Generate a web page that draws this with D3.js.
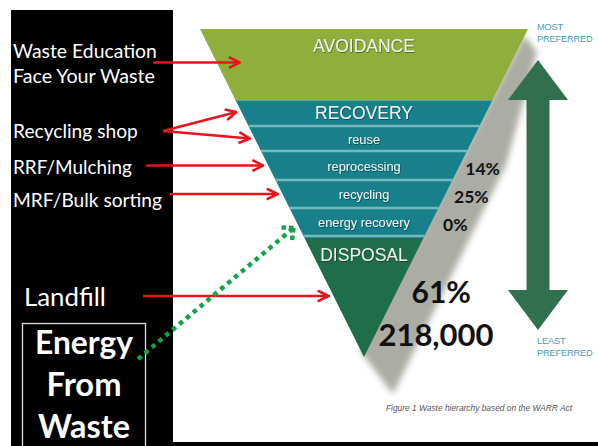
<!DOCTYPE html>
<html lang="en">
<head>
<meta charset="UTF-8">
<title>Waste hierarchy</title>
<script src="https://cdn.jsdelivr.net/npm/d3@7"></script>
<style>
  html, body { margin: 0; padding: 0; background: #fff; }
  svg { display: block; }
</style>
</head>
<body>
<script>

// ---- data ----
var layers     = ["AVOIDANCE", "RECOVERY", "reuse", "reprocessing", "recycling", "energy recovery", "DISPOSAL"];
var layerDepth = [71, 28, 25, 29, 28, 28, 119];   // relative depth of each band in the funnel
var shareLayer = ["reprocessing", "recycling", "energy recovery", "DISPOSAL"];
var shareText  = ["14%", "25%", "0%", "61%"];
var tonnes     = "218,000";
var actions    = [["Waste Education", "Face Your Waste"], ["Recycling shop"], ["RRF/Mulching"], ["MRF/Bulk sorting"], ["Landfill"]];
var actionTo   = [["AVOIDANCE"], ["RECOVERY", "reuse"], ["reprocessing"], ["recycling"], ["DISPOSAL"]];
var efwText    = ["Energy", "From", "Waste"];

var width = 598, height = 446;

var svg = d3.select("body").append("svg")
    .attr("width", width)
    .attr("height", height);

var defs = svg.append("defs");
defs.append("filter").attr("id", "blur")
    .attr("x", "-20%").attr("y", "-20%").attr("width", "140%").attr("height", "140%")
  .append("feGaussianBlur").attr("stdDeviation", 3);

defs.append("filter").attr("id", "tshadow")
  .append("feDropShadow").attr("dx", 0.6).attr("dy", 0.8)
    .attr("stdDeviation", 0.6).attr("flood-color", "#000").attr("flood-opacity", 0.5);

defs.append("marker").attr("id", "redhead")
    .attr("viewBox", "0 0 12 12").attr("refX", 11).attr("refY", 6)
    .attr("markerWidth", 13).attr("markerHeight", 13)
    .attr("markerUnits", "userSpaceOnUse").attr("orient", "auto")
  .append("path").attr("d", "M1,1 L11,6 L1,11")
    .attr("fill", "none").attr("stroke", "#e8141c").attr("stroke-width", 2.4);

// shrink or grow a label so it spans the width it has in the figure
function fit(sel, w) {
    var size = parseFloat(sel.style("font-size"));
    var len = sel.node().getComputedTextLength();
    sel.style("font-size", (size * w / len).toFixed(2) + "px");
    return sel;
}

// ---- scales ----
var cum = [0];
layerDepth.forEach(function(d, i) { cum.push(cum[i] + d); });
var y = d3.scaleLinear().domain([0, cum[cum.length - 1]]).range([29, 357]);
var topY = 29, apexY = 357, cx = 364, halfTop = 164;
var half = d3.scaleLinear().domain([topY, apexY]).range([halfTop, 0]);
function leftX(v) { return cx - half(v); }
function rightX(v) { return cx + half(v); }

var color = d3.scaleOrdinal()
    .domain(layers)
    .range(["#8fae3c", "#17808a", "#17808a", "#17808a", "#17808a", "#17808a", "#1f6d4b"]);

// ---- black side panel ----
svg.append("rect").attr("x", 11).attr("y", 10).attr("width", 162).attr("height", height - 10).attr("fill", "#000");
svg.append("rect").attr("x", 11).attr("y", 442).attr("width", width - 11).attr("height", 4).attr("fill", "#000");

// ---- shadow of the funnel ----
svg.append("polygon")
    .attr("points", [[rightX(topY) - 4, topY + 6], [537, 52], [506, 165], [393, 394], [cx - 4, apexY - 6]].join(" "))
    .attr("fill", "#abaca3")
    .attr("filter", "url(#blur)");

// ---- funnel bands ----
var bands = layers.map(function(name, i) {
    return { name: name, y0: y(cum[i]), y1: y(cum[i + 1]) };
});

svg.selectAll("polygon.band").data(bands).enter().append("polygon")
    .attr("class", "band")
    .attr("points", function(d) {
        return [[leftX(d.y0), d.y0], [rightX(d.y0), d.y0], [rightX(d.y1), d.y1], [leftX(d.y1), d.y1]].join(" ");
    })
    .attr("fill", function(d) { return color(d.name); });

// light separators between the recovery bands
svg.selectAll("line.sep").data(bands.slice(1, 6)).enter().append("line")
    .attr("class", "sep")
    .attr("x1", function(d) { return leftX(d.y1 - 2); })
    .attr("x2", function(d) { return rightX(d.y1 - 2); })
    .attr("y1", function(d) { return d.y1 - 2; })
    .attr("y2", function(d) { return d.y1 - 2; })
    .attr("stroke", "#86c3c5")
    .attr("stroke-opacity", 0.85)
    .attr("stroke-width", 2.4);

svg.append("line")
    .attr("x1", leftX(bands[1].y0 + 0.5)).attr("x2", rightX(bands[1].y0 + 0.5))
    .attr("y1", bands[1].y0 + 0.5).attr("y2", bands[1].y0 + 0.5)
    .attr("stroke", "#5fa7a0").attr("stroke-width", 1);

// band labels
svg.selectAll("text.band").data(bands).enter().append("text")
    .attr("class", "band")
    .attr("x", cx)
    .attr("y", function(d) {
        if (d.name === "AVOIDANCE" || d.name === "DISPOSAL") return d.y0 + 17;
        return (d.y0 + d.y1) / 2 - 1;
    })
    .attr("dy", "0.35em")
    .attr("text-anchor", "middle")
    .attr("fill", "#eef3ee")
    .attr("filter", "url(#tshadow)")
    .style("font-family", "'Liberation Sans', Arial, sans-serif")
    .style("font-size", function(d) { return d.name === d.name.toUpperCase() ? "17.5px" : "12.8px"; })
    .text(function(d) { return d.name; });

// ---- share labels ----
var shareX = [7, 10, 13, 15];
shareLayer.forEach(function(name, i) {
    var b = bands[layers.indexOf(name)];
    var ym = name === "DISPOSAL" ? 292 : (b.y0 + b.y1) / 2 + 1;
    svg.append("text")
        .attr("x", rightX(ym) + shareX[i])
        .attr("y", ym)
        .attr("dy", "0.36em")
        .attr("fill", "#111")
        .style("font-family", "Lato, 'Open Sans', sans-serif")
        .style("font-weight", "bold")
        .style("font-size", name === "DISPOSAL" ? "30px" : "17.5px")
        .text(shareText[i]);
});
svg.append("text")
    .attr("x", 436).attr("y", 335).attr("dy", "0.36em")
    .attr("text-anchor", "middle")
    .attr("fill", "#111")
    .style("font-family", "Lato, 'Open Sans', sans-serif")
    .style("font-weight", "bold")
    .style("font-size", "31px")
    .text(tonnes);

// ---- preference arrow ----
var ax = 538, aTop = 60, aBot = 330, shaft = 11.5, head = 30, headLen = 40;
svg.append("path")
    .attr("d", d3.line()([
        [ax, aTop], [ax + head, aTop + headLen], [ax + shaft, aTop + headLen],
        [ax + shaft, aBot - headLen], [ax + head, aBot - headLen], [ax, aBot],
        [ax - head, aBot - headLen], [ax - shaft, aBot - headLen],
        [ax - shaft, aTop + headLen], [ax - head, aTop + headLen]
    ]) + "Z")
    .attr("fill", "#31704f");

var pref = [["MOST", "PREFERRED", 30], ["LEAST", "PREFERRED", 344]];
pref.forEach(function(p) {
    var t = svg.append("text")
        .attr("x", 537).attr("y", p[2])
        .attr("fill", "#4b9cb3")
        .style("font-family", "'Liberation Sans', Arial, sans-serif")
        .style("font-size", "9.4px")
        .style("letter-spacing", "-0.25px");
    t.append("tspan").attr("x", 537).text(p[0]);
    t.append("tspan").attr("x", 537).attr("dy", 11.5).text(p[1]);
});

svg.append("text")
    .attr("x", 479).attr("y", 411)
    .attr("text-anchor", "middle")
    .attr("fill", "#555")
    .style("font-family", "'Liberation Sans', Arial, sans-serif")
    .style("font-style", "italic")
    .style("font-size", "8.4px")
    .text("Figure 1 Waste hierarchy based on the WARR Act");

// ---- action labels with red arrows ----
var labelFont = "Lato, 'Open Sans', sans-serif";
var labelY = [[51, 76], [131], [167], [200], [297]];
var labelW = [[144, 142], [125], [119], [149], [82]];
var arrowStart = [153, 163, 146, 170, 143];

actions.forEach(function(lines, i) {
    lines.forEach(function(s, j) {
        var t = svg.append("text")
            .attr("x", i === 4 ? 24 : 13)
            .attr("y", labelY[i][j])
            .attr("dy", "0.35em")
            .attr("fill", "#fff")
            .style("font-family", labelFont)
            .style("font-size", "18px")
            .text(s);
        fit(t, labelW[i][j]);
    });
    actionTo[i].forEach(function(name) {
        var b = bands[layers.indexOf(name)];
        var ty = name === "DISPOSAL" ? 296 : (b.y0 + b.y1) / 2 - 2;
        var tx = name === "AVOIDANCE" ? leftX(ty) + 23 : leftX(ty) - 5;
        var sy = actionTo[i].length > 1 ? 131 : ty;
        svg.append("line")
            .attr("x1", arrowStart[i]).attr("y1", sy)
            .attr("x2", tx).attr("y2", ty)
            .attr("stroke", "#e8141c")
            .attr("stroke-width", 2.4)
            .attr("marker-end", "url(#redhead)");
    });
});

// ---- Energy From Waste box ----
svg.append("rect")
    .attr("x", 22.5).attr("y", 323.5).attr("width", 123).attr("height", 130)
    .attr("fill", "none").attr("stroke", "#ddd").attr("stroke-width", 1.3);

var efwW = [98, 75, 92];
svg.selectAll("text.efw").data(efwText).enter().append("text")
    .attr("class", "efw")
    .attr("x", 84)
    .attr("y", function(d, i) { return 343 + i * 42; })
    .attr("dy", "0.35em")
    .attr("text-anchor", "middle")
    .attr("fill", "#fff")
    .style("font-family", labelFont)
    .style("font-weight", "bold")
    .style("font-size", "29px")
    .text(function(d) { return d; })
    .each(function(d, i) { fit(d3.select(this), efwW[i]); });

// ---- dotted green arrow to energy recovery ----
var er = bands[layers.indexOf("energy recovery")];
var gy = er.y1 - 10, gx = leftX(gy) - 6;
var g0 = [138, 359];
svg.append("line")
    .attr("x1", g0[0]).attr("y1", g0[1])
    .attr("x2", gx).attr("y2", gy)
    .attr("stroke", "#12a44a").attr("stroke-width", 4.5)
    .attr("stroke-dasharray", "4.5 4.5");
var ang = Math.atan2(gy - g0[1], gx - g0[0]);
[-0.75, 0.75].forEach(function(off) {
    svg.append("line")
        .attr("x1", gx).attr("y1", gy)
        .attr("x2", gx - 14 * Math.cos(ang + off)).attr("y2", gy - 14 * Math.sin(ang + off))
        .attr("stroke", "#12a44a").attr("stroke-width", 4.5)
        .attr("stroke-dasharray", "4.5 3");
});

</script>
</body>
</html>
